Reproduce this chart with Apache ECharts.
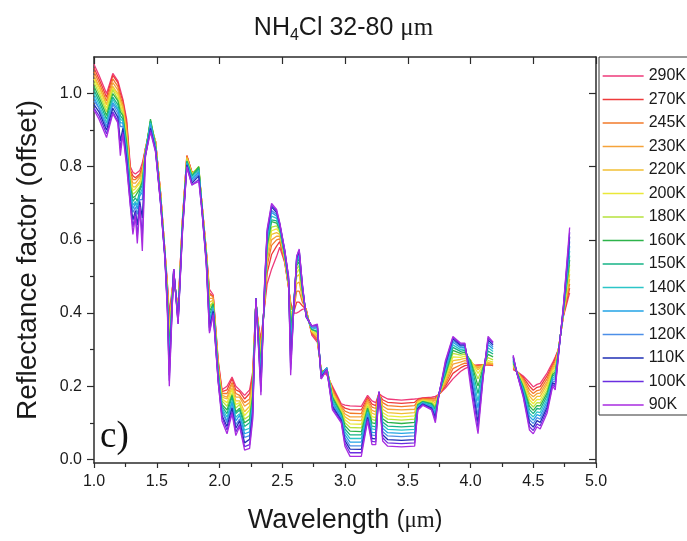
<!DOCTYPE html>
<html><head><meta charset="utf-8">
<script src="https://cdn.jsdelivr.net/npm/echarts@6/dist/echarts.min.js"></script>
<style>html,body{margin:0;padding:0;background:#fff}#c{width:687px;height:541px}</style>
</head><body><div id="c"></div>
<script>
// Wavelength sample positions (µm); null rows mark the data gap
const wavelength = [1.00,1.04,1.10,1.15,1.19,1.21,1.23,1.26,1.29,1.31,1.33,1.345,1.365,1.385,1.41,1.45,1.49,1.53,1.565,1.585,1.60,1.635,1.67,1.705,1.74,1.78,1.835,1.86,1.895,1.92,1.95,1.99,2.02,2.06,2.10,2.13,2.16,2.20,2.24,2.265,2.29,2.31,2.33,2.36,2.38,2.415,2.455,2.48,2.52,2.55,2.567,2.59,2.615,2.635,2.66,2.69,2.735,2.78,2.81,2.855,2.90,2.97,3.00,3.04,3.13,3.18,3.215,3.245,3.27,3.30,3.34,3.45,3.555,3.58,3.62,3.69,3.72,3.75,3.80,3.86,3.92,3.955,4.00,4.035,4.06,4.10,4.14,4.18,4.26,4.34,4.37,4.42,4.47,4.50,4.53,4.555,4.61,4.655,4.675,4.70,4.74,4.79];

const temperatures = ['290K','270K','245K','230K','220K','200K','180K','160K','150K','140K','130K','120K','110K','100K','90K'];

const r290 = [1.08,1.05,1.00,1.055,1.035,1.01,0.985,0.93,0.80,0.785,0.78,0.78,0.79,0.81,0.85,0.905,0.87,0.73,0.57,0.48,0.40,0.50,0.41,0.66,0.83,0.785,0.785,0.70,0.57,0.465,0.45,0.27,0.19,0.20,0.225,0.20,0.19,0.175,0.19,0.24,0.43,0.37,0.33,0.42,0.48,0.52,0.555,0.58,0.537,0.47,0.43,0.40,0.40,0.404,0.41,0.413,0.34,0.32,0.245,0.23,0.20,0.152,0.148,0.146,0.145,0.175,0.16,0.155,0.18,0.172,0.165,0.162,0.165,0.166,0.168,0.17,0.172,0.178,0.195,0.22,0.24,0.248,0.255,0.257,0.258,0.258,0.258,0.256,null,0.245,0.24,0.228,0.21,0.198,0.205,0.208,0.236,0.265,0.28,0.30,0.39,0.455];
const r270 = [1.07,1.04,0.99,1.05,1.03,1.00,0.98,0.92,0.79,0.775,0.77,0.77,0.78,0.80,0.85,0.91,0.87,0.73,0.57,0.475,0.385,0.50,0.41,0.655,0.83,0.785,0.79,0.70,0.57,0.455,0.445,0.265,0.185,0.19,0.22,0.19,0.185,0.165,0.18,0.23,0.43,0.365,0.32,0.425,0.51,0.56,0.583,0.595,0.54,0.47,0.425,0.40,0.43,0.43,0.42,0.41,0.345,0.325,0.245,0.235,0.195,0.148,0.14,0.136,0.135,0.17,0.151,0.147,0.18,0.163,0.156,0.153,0.156,0.164,0.167,0.167,0.168,0.178,0.20,0.235,0.25,0.256,0.258,0.257,0.257,0.258,0.259,0.257,null,0.248,0.24,0.224,0.20,0.189,0.197,0.199,0.228,0.26,0.275,0.30,0.392,0.468];
const r245 = [1.06,1.03,0.98,1.04,1.02,0.99,0.97,0.91,0.785,0.765,0.765,0.76,0.775,0.795,0.85,0.915,0.87,0.73,0.57,0.47,0.37,0.505,0.405,0.655,0.83,0.785,0.79,0.70,0.565,0.45,0.445,0.26,0.18,0.18,0.21,0.18,0.175,0.155,0.165,0.22,0.43,0.365,0.31,0.43,0.53,0.585,0.60,0.603,0.543,0.475,0.42,0.405,0.46,0.46,0.43,0.41,0.345,0.33,0.24,0.24,0.19,0.145,0.132,0.126,0.125,0.165,0.143,0.139,0.18,0.155,0.147,0.144,0.147,0.161,0.165,0.165,0.165,0.178,0.206,0.248,0.258,0.263,0.262,0.257,0.255,0.258,0.26,0.258,null,0.251,0.24,0.22,0.19,0.18,0.188,0.19,0.22,0.256,0.268,0.30,0.394,0.48];
const r230 = [1.05,1.02,0.97,1.03,1.01,0.98,0.965,0.90,0.775,0.755,0.755,0.75,0.77,0.79,0.845,0.92,0.87,0.725,0.565,0.465,0.355,0.505,0.40,0.65,0.825,0.78,0.795,0.70,0.565,0.44,0.44,0.255,0.175,0.17,0.205,0.17,0.17,0.145,0.155,0.21,0.43,0.36,0.295,0.435,0.545,0.60,0.61,0.61,0.546,0.475,0.41,0.41,0.48,0.485,0.44,0.405,0.35,0.335,0.24,0.245,0.185,0.141,0.124,0.116,0.116,0.16,0.134,0.13,0.18,0.146,0.137,0.135,0.137,0.159,0.164,0.162,0.16,0.179,0.211,0.26,0.266,0.27,0.266,0.256,0.25,0.258,0.262,0.26,null,0.254,0.24,0.216,0.18,0.171,0.18,0.181,0.212,0.251,0.262,0.298,0.396,0.493];
const r220 = [1.04,1.02,0.97,1.02,1.00,0.98,0.96,0.89,0.77,0.745,0.745,0.745,0.76,0.78,0.845,0.92,0.865,0.725,0.565,0.46,0.34,0.51,0.40,0.65,0.825,0.78,0.795,0.695,0.56,0.43,0.435,0.25,0.17,0.165,0.195,0.16,0.16,0.13,0.145,0.205,0.435,0.355,0.285,0.44,0.56,0.615,0.62,0.615,0.548,0.48,0.40,0.41,0.50,0.505,0.445,0.405,0.35,0.34,0.24,0.245,0.18,0.137,0.116,0.107,0.106,0.155,0.126,0.122,0.18,0.137,0.128,0.125,0.128,0.157,0.162,0.16,0.155,0.179,0.216,0.27,0.273,0.276,0.27,0.255,0.245,0.257,0.265,0.262,null,0.257,0.24,0.211,0.173,0.161,0.172,0.172,0.205,0.246,0.256,0.296,0.398,0.506];
const r200 = [1.04,1.01,0.96,1.015,0.995,0.97,0.95,0.88,0.76,0.735,0.74,0.735,0.755,0.775,0.845,0.925,0.865,0.72,0.565,0.455,0.33,0.51,0.395,0.645,0.82,0.78,0.80,0.695,0.56,0.42,0.43,0.245,0.165,0.155,0.19,0.15,0.155,0.12,0.135,0.195,0.435,0.35,0.275,0.445,0.57,0.625,0.63,0.62,0.551,0.48,0.39,0.415,0.51,0.52,0.45,0.40,0.35,0.34,0.235,0.25,0.18,0.133,0.108,0.097,0.096,0.15,0.117,0.114,0.18,0.128,0.119,0.116,0.119,0.155,0.161,0.157,0.15,0.179,0.222,0.28,0.279,0.282,0.272,0.25,0.235,0.256,0.27,0.266,null,0.26,0.24,0.207,0.163,0.152,0.164,0.163,0.197,0.242,0.25,0.295,0.40,0.519];
const r180 = [1.03,1.00,0.95,1.01,0.985,0.96,0.945,0.87,0.755,0.725,0.73,0.725,0.745,0.765,0.84,0.925,0.86,0.72,0.56,0.45,0.315,0.51,0.395,0.645,0.82,0.78,0.80,0.695,0.555,0.415,0.43,0.24,0.16,0.145,0.18,0.14,0.15,0.11,0.12,0.185,0.435,0.35,0.265,0.45,0.58,0.635,0.638,0.624,0.554,0.485,0.375,0.42,0.52,0.53,0.455,0.40,0.355,0.345,0.235,0.25,0.175,0.13,0.10,0.087,0.086,0.145,0.109,0.106,0.18,0.12,0.11,0.107,0.11,0.152,0.159,0.155,0.145,0.179,0.227,0.29,0.285,0.288,0.272,0.24,0.22,0.254,0.278,0.272,null,0.262,0.238,0.203,0.154,0.143,0.155,0.154,0.189,0.237,0.244,0.293,0.402,0.532];
const r160 = [1.02,0.99,0.94,1.00,0.98,0.95,0.94,0.865,0.745,0.715,0.72,0.715,0.74,0.76,0.84,0.93,0.86,0.715,0.56,0.44,0.30,0.51,0.39,0.64,0.815,0.775,0.80,0.69,0.55,0.405,0.425,0.24,0.15,0.135,0.175,0.13,0.14,0.10,0.11,0.175,0.435,0.345,0.255,0.455,0.585,0.65,0.646,0.628,0.556,0.485,0.36,0.42,0.53,0.54,0.46,0.40,0.355,0.35,0.235,0.25,0.17,0.126,0.092,0.077,0.076,0.14,0.10,0.098,0.182,0.111,0.101,0.098,0.101,0.15,0.158,0.152,0.14,0.18,0.232,0.298,0.29,0.293,0.27,0.23,0.20,0.25,0.287,0.28,null,0.265,0.238,0.199,0.145,0.134,0.147,0.146,0.181,0.232,0.238,0.292,0.404,0.545];
const r150 = [1.01,0.98,0.93,0.99,0.97,0.94,0.93,0.855,0.735,0.705,0.715,0.705,0.735,0.75,0.84,0.925,0.855,0.715,0.56,0.435,0.285,0.515,0.385,0.64,0.815,0.775,0.795,0.69,0.55,0.395,0.42,0.235,0.145,0.125,0.17,0.125,0.135,0.09,0.10,0.165,0.435,0.34,0.24,0.46,0.595,0.655,0.652,0.631,0.559,0.49,0.34,0.42,0.535,0.55,0.465,0.395,0.355,0.35,0.23,0.25,0.165,0.122,0.083,0.067,0.067,0.135,0.091,0.089,0.182,0.102,0.091,0.089,0.091,0.148,0.157,0.15,0.135,0.18,0.238,0.306,0.295,0.298,0.265,0.215,0.18,0.245,0.296,0.288,null,0.268,0.238,0.195,0.136,0.125,0.139,0.137,0.173,0.228,0.232,0.29,0.406,0.557];
const r140 = [1.00,0.97,0.92,0.985,0.96,0.93,0.925,0.845,0.73,0.695,0.705,0.695,0.725,0.74,0.835,0.92,0.855,0.71,0.56,0.43,0.27,0.515,0.385,0.635,0.81,0.77,0.79,0.69,0.545,0.385,0.415,0.23,0.14,0.115,0.16,0.115,0.125,0.08,0.085,0.155,0.44,0.335,0.23,0.465,0.60,0.665,0.659,0.634,0.562,0.49,0.32,0.41,0.54,0.555,0.47,0.395,0.36,0.355,0.23,0.25,0.16,0.118,0.075,0.057,0.057,0.13,0.083,0.081,0.182,0.094,0.082,0.08,0.082,0.145,0.155,0.147,0.13,0.18,0.243,0.313,0.30,0.302,0.258,0.20,0.16,0.24,0.305,0.295,null,0.271,0.237,0.19,0.126,0.116,0.13,0.128,0.165,0.223,0.226,0.289,0.408,0.57];
const r130 = [0.99,0.96,0.91,0.975,0.955,0.92,0.92,0.835,0.72,0.685,0.70,0.685,0.72,0.73,0.835,0.915,0.85,0.71,0.555,0.425,0.255,0.515,0.38,0.635,0.81,0.765,0.785,0.685,0.545,0.38,0.41,0.225,0.135,0.105,0.155,0.105,0.12,0.07,0.075,0.145,0.44,0.33,0.22,0.47,0.61,0.675,0.665,0.638,0.564,0.49,0.30,0.41,0.545,0.56,0.47,0.395,0.36,0.36,0.23,0.25,0.155,0.115,0.067,0.047,0.047,0.125,0.074,0.073,0.184,0.085,0.073,0.071,0.073,0.143,0.154,0.145,0.125,0.18,0.248,0.32,0.305,0.306,0.25,0.185,0.14,0.235,0.313,0.302,null,0.274,0.237,0.186,0.117,0.107,0.122,0.119,0.157,0.219,0.22,0.287,0.41,0.583];
const r120 = [0.98,0.96,0.91,0.97,0.945,0.91,0.91,0.83,0.715,0.675,0.69,0.67,0.71,0.71,0.835,0.91,0.85,0.705,0.555,0.42,0.245,0.52,0.38,0.63,0.805,0.76,0.78,0.685,0.54,0.37,0.41,0.22,0.13,0.10,0.145,0.095,0.11,0.06,0.065,0.14,0.44,0.325,0.21,0.475,0.615,0.68,0.67,0.64,0.567,0.495,0.28,0.405,0.55,0.565,0.475,0.39,0.36,0.36,0.225,0.25,0.15,0.111,0.059,0.037,0.037,0.12,0.066,0.065,0.184,0.076,0.064,0.062,0.064,0.141,0.152,0.142,0.12,0.18,0.254,0.325,0.309,0.31,0.24,0.17,0.12,0.232,0.32,0.308,null,0.277,0.236,0.182,0.108,0.098,0.114,0.11,0.149,0.214,0.213,0.286,0.412,0.596];
const r110 = [0.97,0.95,0.90,0.96,0.935,0.87,0.905,0.82,0.705,0.655,0.68,0.64,0.705,0.66,0.83,0.905,0.845,0.705,0.555,0.415,0.23,0.52,0.375,0.63,0.805,0.755,0.775,0.685,0.54,0.36,0.405,0.215,0.12,0.09,0.14,0.085,0.105,0.045,0.055,0.13,0.44,0.32,0.20,0.48,0.62,0.69,0.675,0.643,0.569,0.495,0.26,0.40,0.55,0.57,0.475,0.39,0.365,0.365,0.225,0.245,0.145,0.107,0.051,0.028,0.027,0.115,0.057,0.056,0.185,0.067,0.054,0.052,0.054,0.139,0.151,0.14,0.115,0.18,0.259,0.33,0.312,0.313,0.23,0.155,0.10,0.228,0.326,0.313,null,0.28,0.236,0.178,0.099,0.088,0.106,0.101,0.142,0.209,0.205,0.284,0.415,0.609];
const r100 = [0.96,0.94,0.89,0.95,0.925,0.85,0.895,0.81,0.695,0.635,0.675,0.61,0.695,0.61,0.83,0.90,0.845,0.70,0.55,0.41,0.215,0.52,0.37,0.625,0.80,0.75,0.765,0.68,0.535,0.35,0.40,0.21,0.115,0.08,0.13,0.075,0.095,0.035,0.04,0.12,0.44,0.315,0.185,0.485,0.625,0.695,0.679,0.645,0.571,0.50,0.245,0.40,0.555,0.572,0.48,0.39,0.365,0.365,0.22,0.245,0.14,0.104,0.043,0.018,0.018,0.11,0.049,0.048,0.185,0.059,0.045,0.043,0.045,0.136,0.149,0.137,0.108,0.18,0.264,0.333,0.315,0.316,0.215,0.14,0.085,0.224,0.331,0.317,null,0.282,0.235,0.174,0.089,0.079,0.097,0.092,0.134,0.205,0.198,0.282,0.417,0.621];
const r90 = [0.955,0.93,0.88,0.945,0.92,0.83,0.89,0.80,0.69,0.615,0.665,0.59,0.69,0.57,0.83,0.895,0.84,0.70,0.55,0.40,0.20,0.52,0.37,0.62,0.80,0.75,0.76,0.68,0.53,0.345,0.395,0.21,0.105,0.07,0.125,0.065,0.09,0.025,0.03,0.11,0.44,0.31,0.175,0.49,0.63,0.70,0.683,0.647,0.573,0.50,0.23,0.40,0.555,0.575,0.48,0.39,0.365,0.37,0.22,0.245,0.135,0.10,0.035,0.008,0.008,0.105,0.04,0.04,0.185,0.05,0.036,0.034,0.036,0.134,0.148,0.135,0.10,0.18,0.27,0.336,0.318,0.318,0.20,0.12,0.07,0.22,0.336,0.32,null,0.285,0.235,0.17,0.08,0.07,0.089,0.083,0.126,0.20,0.19,0.28,0.42,0.634];

const xTickValues = [1.0,1.5,2.0,2.5,3.0,3.5,4.0,4.5,5.0];
const yLabelValues = [0.0,0.2,0.4,0.6,0.8,1.0];
const yMinorValues = [0.1,0.3,0.5,0.7,0.9];

const lineColors = ['#EE3A7A','#EE3B3B','#F27A2A','#F5A33A','#F2BF33','#EAE838','#B6E23C','#2DB34A','#16B386','#2CC5C8','#22A3E6','#4C8FE8','#1F2FB5','#6A2EE0','#A82BE0'];

const spectra = [r290,r270,r245,r230,r220,r200,r180,r160,r150,r140,r130,r120,r110,r100,r90];

const FONT = '"Liberation Sans", Arial, sans-serif';
const TXT = '#1a1a1a';
const AX = '#2b2b2b';

const chart = echarts.init(document.getElementById('c'), null, {renderer: 'canvas'});

const series = temperatures.map((t, i) => ({
  name: t,
  type: 'line',
  xAxisIndex: 0,
  yAxisIndex: 0,
  symbol: 'none',
  connectNulls: false,
  data: wavelength.map((x, j) => [x, spectra[i][j] === null ? '-' : spectra[i][j]]),
  lineStyle: {width: 1.3, color: lineColors[i]},
  itemStyle: {color: lineColors[i]},
  emphasis: {disabled: true},
  z: 2 + i
}));

chart.setOption({
  animation: false,
  backgroundColor: '#fff',
  title: {
    text: '{a|NH}{b|4}{a|Cl 32-80 }{c|μm}',
    left: 'center',
    top: 13,
    padding: 0,
    textStyle: {
      rich: {
        a: {fontSize: 25, fontWeight: 'normal', fontFamily: FONT, color: TXT, lineHeight: 31},
        b: {fontSize: 16, fontWeight: 'normal', fontFamily: FONT, color: TXT, lineHeight: 16, verticalAlign: 'bottom'},
        c: {fontSize: 25, fontWeight: 'normal', fontFamily: '"Liberation Serif", serif', color: TXT, lineHeight: 31}
      }
    }
  },
  legend: {
    orient: 'vertical',
    left: 599,
    top: 57,
    padding: [11, 40, 2, 3],
    itemWidth: 41,
    itemHeight: 14,
    itemGap: 7.5,
    borderColor: '#333',
    borderWidth: 1,
    data: temperatures,
    itemStyle: {opacity: 0},
    lineStyle: {width: 1.3},
    textStyle: {fontSize: 16, fontFamily: FONT, color: TXT},
    selectedMode: false
  },
  grid: {left: 94, right: 91, top: 57, bottom: 78, containLabel: false},
  xAxis: [
    {
      type: 'value', min: 1, max: 5, interval: 0.5, position: 'bottom',
      name: '{a|Wavelength }{b|(}{c|μm}{b|)}',
      nameLocation: 'middle', nameGap: 44,
      nameTextStyle: {
        rich: {
          a: {fontSize: 27, fontFamily: FONT, color: TXT},
          b: {fontSize: 23, fontFamily: FONT, color: TXT},
          c: {fontSize: 23, fontFamily: '"Liberation Serif", serif', color: TXT}
        }
      },
      axisLine: {show: true, onZero: false, lineStyle: {color: AX, width: 1.5}},
      axisTick: {show: true, inside: false, length: 5, lineStyle: {color: AX, width: 1.2}},
      minorTick: {show: true, splitNumber: 2, length: 4, lineStyle: {color: AX, width: 1.2}},
      axisLabel: {show: true, margin: 11, fontSize: 16, fontFamily: FONT, color: TXT,
        formatter: v => Number(v).toFixed(1)},
      splitLine: {show: false}, minorSplitLine: {show: false}
    },
    {
      type: 'value', min: 1, max: 5, interval: 0.5, position: 'top',
      axisLine: {show: true, onZero: false, lineStyle: {color: AX, width: 1.5}},
      axisTick: {show: true, inside: true, length: 7, lineStyle: {color: AX, width: 1.2}},
      axisLabel: {show: false}, splitLine: {show: false}
    }
  ],
  yAxis: [
    {
      type: 'value', min: -0.01, max: 1.1, position: 'left',
      name: 'Reflectance factor (offset)',
      nameLocation: 'middle', nameGap: 52, nameRotate: 90,
      nameTextStyle: {fontSize: 28, fontFamily: FONT, color: TXT},
      axisLine: {show: true, onZero: false, lineStyle: {color: AX, width: 1.5}},
      axisTick: {show: true, inside: false, length: 7, customValues: yLabelValues, lineStyle: {color: AX, width: 1.2}},
      axisLabel: {show: true, margin: 12, fontSize: 16, fontFamily: FONT, color: TXT,
        customValues: yLabelValues, formatter: v => Number(v).toFixed(1)},
      splitLine: {show: false}
    },
    {
      type: 'value', min: -0.01, max: 1.1, position: 'right',
      axisLine: {show: true, onZero: false, lineStyle: {color: AX, width: 1.5}},
      axisTick: {show: true, inside: true, length: 7, customValues: yLabelValues, lineStyle: {color: AX, width: 1.2}},
      axisLabel: {show: false}, splitLine: {show: false}
    },
    {
      type: 'value', min: -0.01, max: 1.1, position: 'left',
      axisLine: {show: false},
      axisTick: {show: true, inside: false, length: 4, customValues: yMinorValues, lineStyle: {color: AX, width: 1.2}},
      axisLabel: {show: false}, splitLine: {show: false}
    }
  ],
  graphic: [
    {
      type: 'text', left: 100, top: 419, z: 50,
      style: {text: 'c)', font: '37px "Liberation Serif", "Times New Roman", serif', fill: '#111'}
    }
  ],
  series: series
});
</script>
</body></html>
